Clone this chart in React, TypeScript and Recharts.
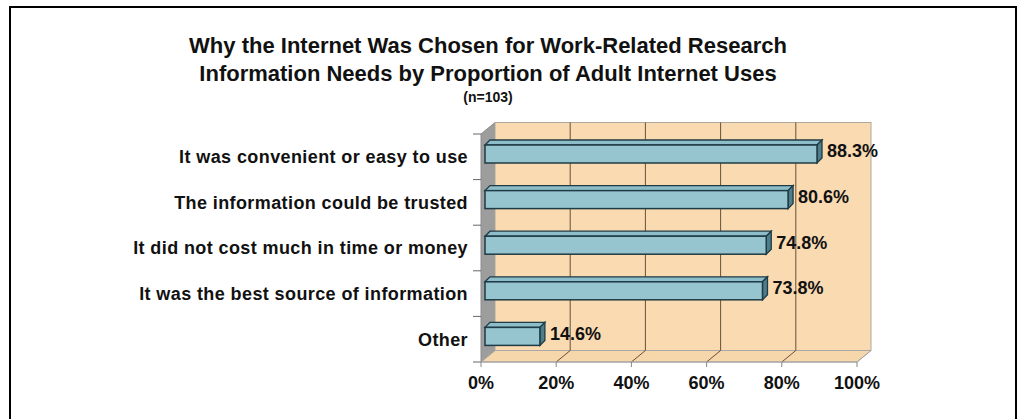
import React from "react";
import {
  BarChart,
  Bar,
  XAxis,
  YAxis,
  CartesianGrid,
  ReferenceArea,
  ReferenceLine,
} from "recharts";

const categories = [
  "It was convenient or easy to use",
  "The information could be trusted",
  "It did not cost much in time or money",
  "It was the best source of information",
  "Other",
];
const values = [88.3, 80.6, 74.8, 73.8, 14.6];
const xTicks = [0, 20, 40, 60, 80, 100];
const titleLines = [
  "Why the Internet Was Chosen for Work-Related Research",
  "Information Needs by Proportion of Adult Internet Uses",
];
const subtitle = "(n=103)";

const data = categories.map((name, i) => ({ name, value: values[i] }));

const FONT = "'Liberation Sans', Arial, Helvetica, sans-serif";
const DX = 14;
const DY = 11.5;

const Walls = (props: any) => {
  const { x, y, width: w, height: h } = props;
  return (
    <g>
      <polygon
        points={`${x},${y} ${x + DX},${y - DY} ${x + DX},${y + h - DY} ${x},${y + h}`}
        fill="#9d9d9d"
        stroke="#8c8c8c"
        strokeWidth={1}
      />
      <rect x={x + DX} y={y - DY} width={w} height={h} fill="#F9DAB1" stroke="#b0a89c" strokeWidth={1} />
      <polygon
        points={`${x},${y + h} ${x + DX},${y + h - DY} ${x + w + DX},${y + h - DY} ${x + w},${y + h}`}
        fill="#F6D6AB"
        stroke="#a8a8a8"
        strokeWidth={1}
      />
    </g>
  );
};

const gridLine = (props: any) => {
  const { x1, y1, y2, index } = props;
  const isEdge = index === 0 || index === xTicks.length - 1;
  const c = isEdge ? "#a8a8a8" : "#65513b";
  return (
    <g key={`g-${index}-${x1}`}>
      {!isEdge && <line x1={x1 + DX} y1={y1 - DY} x2={x1 + DX} y2={y2 - DY} stroke={c} strokeWidth={1} />}
      <line x1={x1} y1={y2} x2={x1 + DX} y2={y2 - DY} stroke={c} strokeWidth={1} />
    </g>
  );
};

const catTick = (props: any) => {
  const { x1, y1 } = props;
  return <line x1={x1 - 8} y1={y1} x2={x1} y2={y1} stroke="#666" strokeWidth={1} />;
};

const Bar3D = (props: any) => {
  const { x, y, width, height, payload } = props;
  if (width == null) return null;
  const bx = x + 4;
  const by = y - 3;
  const d = 5;
  const stroke = "#1f3b45";
  return (
    <g>
      <polygon
        points={`${bx},${by} ${bx + d},${by - d} ${bx + width + d},${by - d} ${bx + width},${by}`}
        fill="#8dbdc9"
        stroke={stroke}
        strokeWidth={1.3}
      />
      <polygon
        points={`${bx + width},${by} ${bx + width + d},${by - d} ${bx + width + d},${by + height - d} ${bx + width},${by + height}`}
        fill="#4d7e8a"
        stroke={stroke}
        strokeWidth={1.3}
      />
      <rect x={bx} y={by} width={width} height={height} fill="#96C4CF" stroke={stroke} strokeWidth={1.5} />
      <text
        x={x + width + 14}
        y={y + height / 2 - 6}
        dy="0.355em"
        fontFamily={FONT}
        fontWeight="bold"
        fontSize={18}
        fill="#111"
      >
        {`${payload.value}%`}
      </text>
    </g>
  );
};

export default function App() {
  return (
    <div style={{ position: "absolute", left: 0, top: 0, width: 1021, height: 419, background: "#fff", overflow: "hidden" }}>
      <div
        style={{
          position: "absolute",
          left: 9,
          top: 6,
          width: 1004,
          height: 430,
          border: "2px solid #000",
          borderBottom: "none",
        }}
      />
      <div
        style={{
          position: "absolute",
          left: 88,
          width: 800,
          top: 32,
          textAlign: "center",
          fontFamily: FONT,
          fontWeight: "bold",
          fontSize: 22,
          lineHeight: "28px",
          color: "#111",
        }}
      >
        <div>{titleLines[0]}</div>
        <div>{titleLines[1]}</div>
        <div style={{ fontSize: 14, lineHeight: "18px", marginTop: 0 }}>{subtitle}</div>
      </div>
      <div style={{ position: "absolute", left: 0, top: 0 }}>
        <BarChart
          width={1021}
          height={419}
          data={data}
          layout="vertical"
          margin={{ top: 134, right: 164, bottom: 27, left: 0 }}
          barSize={18}
        >
          <ReferenceArea zIndex={-200} shape={Walls} ifOverflow="visible" />
          <CartesianGrid horizontal={false} vertical={gridLine as any} stroke="none" />
          {categories.map((c) => (
            <ReferenceLine key={`s-${c}`} y={c} position="start" shape={catTick} ifOverflow="visible" />
          ))}
          <ReferenceLine y={categories[categories.length - 1]} position="end" shape={catTick} ifOverflow="visible" />
          <XAxis
            type="number"
            domain={[0, 100]}
            ticks={xTicks}
            tickFormatter={(v: number) => `${v}%`}
            height={30}
            tickSize={5}
            tickMargin={9}
            axisLine={{ stroke: "#a0a0a0" }}
            tickLine={{ stroke: "#888" }}
            tick={{ fill: "#111", fontSize: 18, fontWeight: "bold", fontFamily: FONT }}
            interval={0}
          />
          <YAxis
            type="category"
            dataKey="name"
            width={481}
            tickLine={false}
            axisLine={false}
            tickSize={6}
            tickMargin={7}
            tick={{ fill: "#111", fontSize: 18, fontWeight: "bold", fontFamily: FONT, letterSpacing: 0.4 } as any}
            interval={0}
          />
          <Bar dataKey="value" isAnimationActive={false} shape={Bar3D} />
        </BarChart>
      </div>
    </div>
  );
}
